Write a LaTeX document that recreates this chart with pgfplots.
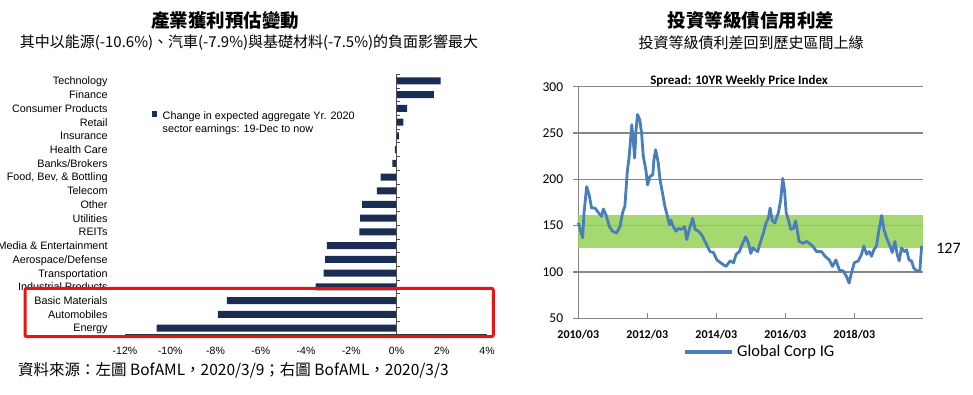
\documentclass[border=0pt]{standalone}
\usepackage{fontspec}
\setmainfont{Liberation Sans}
\newfontfamily\carlito{Carlito}
\newfontfamily\cjk{Noto Sans CJK TC}
\usepackage{pgfplots}
\pgfplotsset{compat=1.18}
\definecolor{navy}{RGB}{25,45,85}
\definecolor{redbox}{RGB}{230,20,20}
\definecolor{lineblue}{RGB}{74,126,187}
\definecolor{bandgreen}{RGB}{146,208,80}
\definecolor{gridgray}{RGB}{134,134,134}
\begin{document}
\begin{tikzpicture}[x=1pt,y=1pt]
\path[use as bounding box] (0,0) rectangle (973,395);
% titles
\node[font=\cjk\bfseries\fontsize{18.5}{20}\selectfont] at (225,374.5) {產業獲利預估變動};
\node[font=\cjk\fontsize{15}{17}\selectfont] at (249,352.5) {其中以能源(-10.6\%)、汽車(-7.9\%)與基礎材料(-7.5\%)的負面影響最大};
\node[font=\cjk\bfseries\fontsize{18.5}{20}\selectfont] at (751,374.5) {投資等級債信用利差};
\node[font=\cjk\fontsize{15}{17}\selectfont] at (751,352) {投資等級債利差回到歷史區間上緣};
\node[font=\cjk\fontsize{15.5}{17}\selectfont, anchor=west, inner sep=0pt] at (18,25) {資料來源：左圖 BofAML，2020/3/9；右圖 BofAML，2020/3/3};

% left bar chart
\begin{axis}[at={(125pt,60.1pt)}, anchor=south west, scale only axis,
  width=362pt, height=260.8pt,
  xmin=-12, xmax=4, ymin=-0.5, ymax=18.5,
  xbar, bar width=7pt,
  axis line style={draw=none},
  tick style={draw=none},
  xtick={-12,-10,...,4},
  xticklabels={-12\%,-10\%,-8\%,-6\%,-4\%,-2\%,0\%,2\%,4\%},
  ytick={0,...,18},
  yticklabels={Energy,Automobiles,Basic Materials,Industrial Products,Transportation,Aerospace/Defense,Media \& Entertainment,REITs,Utilities,Other,Telecom,{Food, Bev, \& Bottling},Banks/Brokers,Health Care,Insurance,Retail,Consumer Products,Finance,Technology},
  xticklabel style={font=\fontsize{10.5}{12}\selectfont, anchor=north, inner sep=0pt, yshift=-12pt},
  yticklabel style={font=\fontsize{10.8}{12}\selectfont, anchor=base east, inner sep=0pt, xshift=-13pt, yshift=-3.9pt},
  clip=false,
  legend cell align=left,
  legend style={at={(0.0738,0.8585)}, anchor=north west, draw=none, fill=none, inner sep=0pt,
    font=\fontsize{10.8}{12}\selectfont, row sep=2.5pt,
    nodes={inner sep=0pt, text height=8pt, text depth=2.5pt},
    /tikz/every odd column/.append style={column sep=5.3pt}},
]
\addplot[fill=navy, draw=none,
  legend image code/.code={\fill[navy] (0pt,-0.5pt) rectangle (5.5pt,5pt);}]
  coordinates {(-10.6,0) (-7.9,1) (-7.5,2) (-3.57,3) (-3.22,4) (-3.16,5) (-3.08,6)
  (-1.64,7) (-1.61,8) (-1.52,9) (-0.87,10) (-0.7,11) (-0.18,12) (-0.07,13)
  (0.1,14) (0.3,15) (0.47,16) (1.65,17) (1.95,18)};
\addlegendentry{Change in expected aggregate Yr. 2020}
\addlegendimage{empty legend}
\addlegendentry{sector earnings: 19-Dec to now}
\draw[black!80, line width=0.8pt] (axis cs:-12,-0.5) -- (axis cs:4,-0.5);
\draw[black!70, line width=0.8pt] (axis cs:0,-0.5) -- (axis cs:0,18.5);
\pgfplotsinvokeforeach{-0.5,0.5,1.5,2.5,3.5,4.5,5.5,6.5,7.5,8.5,9.5,10.5,11.5,12.5,13.5,14.5,15.5,16.5,17.5,18.5}{\draw[black!70, line width=0.6pt] (axis cs:0,#1) -- (axis cs:0.14,#1);}
\end{axis}
\draw[redbox, line width=3pt, rounded corners=2pt] (25,58.3) rectangle (493.3,106.7);

% right line chart
\begin{axis}[at={(578.3pt,76.7pt)}, anchor=south west, scale only axis,
  width=345pt, height=231.6pt,
  xmin=0, xmax=120, ymin=50, ymax=300,
  axis x line*=bottom, axis y line*=left,
  axis line style={draw=gridgray, line width=1.5pt, -},
  ymajorgrids, grid style={gridgray, line width=1.5pt},
  ytick={50,100,...,300}, yticklabels={50,100,150,200,250,300},
  xtick={0,24,48,72,96}, xticklabels={2010/03,2012/03,2014/03,2016/03,2018/03},
  tick style={gridgray, line width=1.2pt}, major tick length=5pt, tick align=outside,
  xtick style={yshift=5pt},
  yticklabel style={font=\carlito\fontsize{13.5}{15}\selectfont, anchor=east, inner sep=0pt, xshift=-10pt},
  xticklabel style={font=\carlito\bfseries\fontsize{12}{14}\selectfont, anchor=north, inner sep=0pt, yshift=-7pt},
  title={Spread: 10YR Weekly Price Index},
  title style={font=\carlito\bfseries\fontsize{13}{15}\selectfont, at={(0.466,1)}, anchor=base, inner sep=0pt, yshift=-3.5pt},
  clip=false,
  legend style={at={(0.3035,-0.1442)}, anchor=west, draw=none, fill=none, inner sep=0pt,
    font=\carlito\fontsize{16.5}{18}\selectfont,
    nodes={inner sep=0pt},
    /tikz/every odd column/.append style={column sep=3pt}},
  legend image code/.code={\draw[#1, line width=4pt] (0pt,0pt) -- (47pt,0pt);},
]
\addplot[fill=bandgreen, draw=none, fill opacity=0.82, forget plot]
  coordinates {(0,126) (120,126) (120,162) (0,162)} -- cycle;
\addplot[lineblue, line width=2.8pt, line join=round] coordinates {
(0,153) (1.5,137) (2,164) (2.9,192) (3.8,183) (4.6,169) (5.8,169) (7,164) (8.1,160)
(8.7,168) (9.6,162) (10.8,149) (11.9,144) (13.3,142) (14.5,149) (15.4,164) (16.2,171)
(17,207) (17.7,225) (18.6,259) (19.1,243) (19.6,223) (20.1,254) (20.6,270) (21.4,264)
(22,250) (22.6,225) (23.5,210) (24.1,194) (24.9,203) (25.9,205) (26.3,221) (26.9,232)
(27.8,218) (28.4,200) (29.3,185) (30.1,171) (31,160) (31.7,151) (32.2,156) (33,149)
(34,144) (34.8,147) (35.9,146) (37,149) (37.7,135) (38.6,146) (39.8,158) (40.6,146)
(41.8,144) (42.9,140) (44.4,131) (45.8,122) (47,121) (48.2,113) (49.9,109) (51.4,106)
(52.8,112) (54,110) (54.9,119) (56,122) (57.2,131) (58.2,138) (59.2,131) (60,120)
(60.7,126) (61.5,124) (62.4,122) (63.2,131) (64.4,142) (65.3,153) (66.1,158) (66.7,169)
(67.5,155) (68.4,153) (69.6,164) (70.4,178) (71.1,201) (71.7,189) (72.3,164) (73.1,156)
(73.9,146) (74.8,147) (75.6,155) (76.2,144) (76.8,133) (78.2,131) (79.4,133) (80.3,131)
(81.5,128) (82.9,122) (84.6,122) (85.8,117) (87.3,113) (88.4,106) (89.6,113) (90.8,102)
(92.2,101) (93.3,95) (94.2,88) (95,99) (96,110) (97.4,112) (98.5,119) (99.3,128)
(100.3,119) (101.2,122) (102,117) (102.8,124) (103.7,128) (104.6,146) (105.5,161)
(106.3,146) (107.2,137) (108.4,128) (109.2,121) (110.1,133) (110.9,119) (111.6,112)
(112.4,126) (113.4,122) (114.2,124) (115,113) (115.9,112) (116.7,104) (117.9,101)
(118.8,101) (119.4,128)};
\addlegendentry{Global Corp IG}
\end{axis}
\node[font=\carlito\fontsize{16}{18}\selectfont] at (948.5,147) {127};
\end{tikzpicture}
\end{document}
